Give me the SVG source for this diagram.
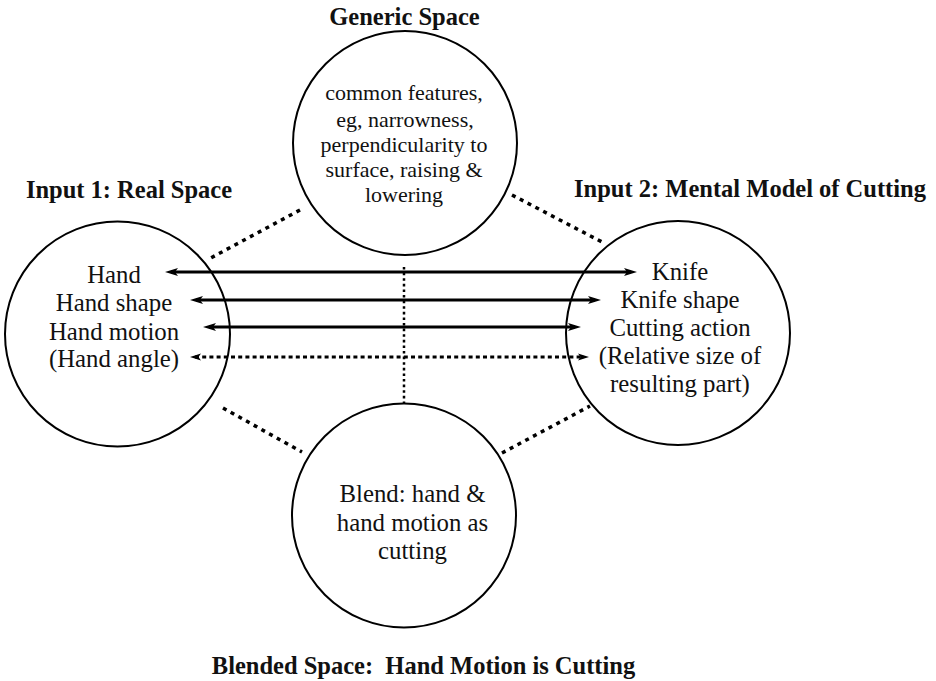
<svg xmlns="http://www.w3.org/2000/svg" width="936" height="681" viewBox="0 0 936 681">
<style>
.circle{fill:none;stroke:#000;stroke-width:2}
text{font-family:"Liberation Serif","DejaVu Serif",serif;fill:#111;text-anchor:middle}
.title{font-weight:bold;font-size:24.5px}
.body{font-size:24.8px}
.small{font-size:22px}
.arrow{stroke:#000;stroke-width:3;fill:none;marker-start:url(#ah);marker-end:url(#ah)}
.darrow{stroke:#000;stroke-width:3;fill:none;stroke-dasharray:4 3.2;marker-start:url(#ahs);marker-end:url(#ahs)}
.diag{stroke:#000;stroke-width:3.5;fill:none;stroke-dasharray:4 4.8}
.vdot{stroke:#000;stroke-width:2.5;fill:none;stroke-dasharray:2.6 3}
</style>
<defs>
<marker id="ah" markerUnits="userSpaceOnUse" markerWidth="14" markerHeight="10" refX="7" refY="5" orient="auto-start-reverse">
<path d="M0,1 L13,5 L0,9 L3,5 z" fill="#000"/>
</marker>
<marker id="ahs" markerUnits="userSpaceOnUse" markerWidth="12" markerHeight="10" refX="6" refY="5" orient="auto-start-reverse">
<path d="M0,1.5 L11,5 L0,8.5 L2.5,5 z" fill="#000"/>
</marker>
</defs>
<rect width="936" height="681" fill="#fff"/>

<g id="generic">
<circle class="circle" cx="405" cy="143" r="112"/>
<text class="title" x="404.5" y="25">Generic Space</text>
<text class="small" x="404" y="100">common features,</text>
<text class="small" x="405" y="126.5">eg, narrowness,</text>
<text class="small" x="404" y="151.5">perpendicularity to</text>
<text class="small" x="404" y="176.5">surface, raising &amp;</text>
<text class="small" x="404" y="201.5">lowering</text>
</g>

<g id="input1">
<circle class="circle" cx="117.5" cy="334" r="112.5"/>
<text class="title" x="129" y="198">Input 1: Real Space</text>
<text class="body" x="114" y="283">Hand</text>
<text class="body" x="114" y="311">Hand shape</text>
<text class="body" x="114" y="339.5">Hand motion</text>
<text class="body" x="114" y="367">(Hand angle)</text>
</g>

<g id="input2">
<circle class="circle" cx="678" cy="333" r="112"/>
<text class="title" x="750" y="197">Input 2: Mental Model of Cutting</text>
<text class="body" x="680" y="279.5">Knife</text>
<text class="body" x="680" y="307.5">Knife shape</text>
<text class="body" x="680" y="336">Cutting action</text>
<text class="body" x="680" y="363.5">(Relative size of</text>
<text class="body" x="680" y="392">resulting part)</text>
</g>

<g id="blend">
<circle class="circle" cx="404" cy="515.5" r="112"/>
<text class="body" x="412.5" y="502">Blend: hand &amp;</text>
<text class="body" x="412.5" y="530.5">hand motion as</text>
<text class="body" x="412.5" y="558.5">cutting</text>
<text class="title" x="423.5" y="674" xml:space="preserve">Blended Space:  Hand Motion is Cutting</text>
</g>

<g id="connectors">
<line class="arrow" x1="171" y1="272" x2="631" y2="272"/>
<line class="arrow" x1="196" y1="300" x2="595" y2="300"/>
<line class="arrow" x1="209" y1="327" x2="575" y2="327"/>
<line class="darrow" x1="195" y1="357" x2="584" y2="357"/>
<line class="vdot" x1="404" y1="267" x2="404" y2="404"/>
<line class="diag" x1="300" y1="210" x2="207" y2="260"/>
<line class="diag" x1="512" y1="195" x2="602" y2="242"/>
<line class="diag" x1="223" y1="408" x2="302" y2="452"/>
<line class="diag" x1="502" y1="453" x2="590" y2="406"/>
</g>
</svg>
